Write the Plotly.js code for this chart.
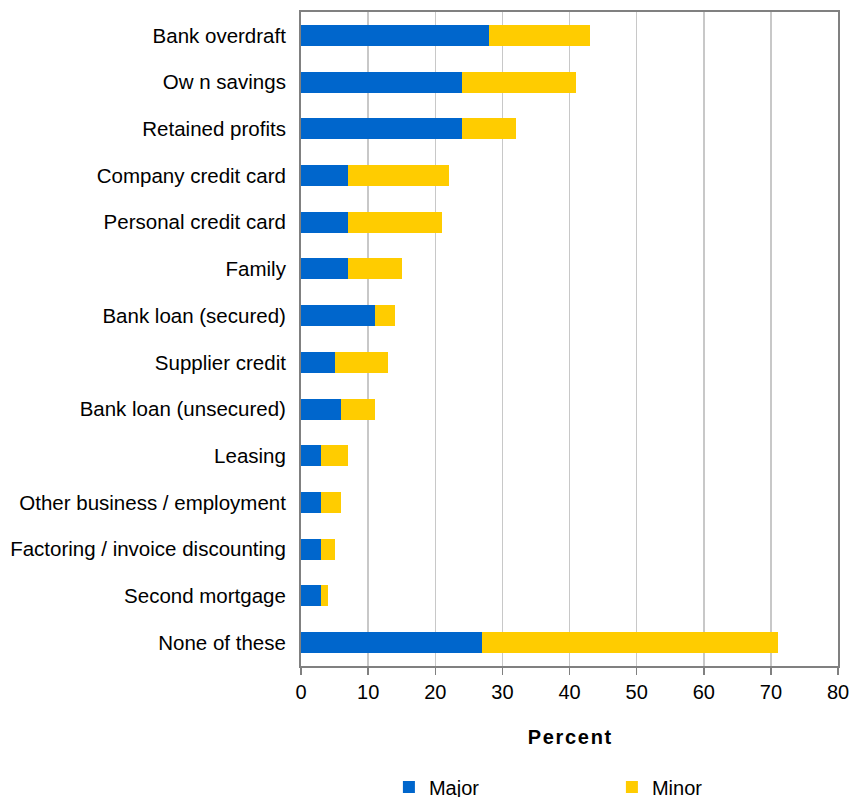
<!DOCTYPE html>
<html>
<head>
<meta charset="utf-8">
<script src="https://cdn.plot.ly/plotly-3.0.1.min.js"></script>
<style>html,body{margin:0;padding:0;background:#fff;}#chart{width:851px;height:797px;}</style>
</head>
<body>
<div id="chart"></div>
<script>
const categories = ["Bank overdraft","Ow n savings","Retained profits","Company credit card","Personal credit card","Family","Bank loan (secured)","Supplier credit","Bank loan (unsecured)","Leasing","Other business / employment","Factoring / invoice discounting","Second mortgage","None of these"];
const majorValues = [28, 24, 24, 7, 7, 7, 11, 5, 6, 3, 3, 3, 3, 27];
const minorValues = [15, 17, 8, 15, 14, 8, 3, 8, 5, 4, 3, 2, 1, 44];
const xTicks = [0,10,20,30,40,50,60,70,80];

const font = "Liberation Sans, Arial, sans-serif";
const data = [
  {type:"bar", orientation:"h", name:"Major", y:categories, x:majorValues, marker:{color:"#0066CC"}, hoverinfo:"x+y"},
  {type:"bar", orientation:"h", name:"Minor", y:categories, x:minorValues, marker:{color:"#FFCC00"}, hoverinfo:"x+y"}
];
const layout = {
  width:851, height:797,
  margin:{l:301, r:13, t:12, b:131, autoexpand:false},
  barmode:"stack", bargap:0.55,
  paper_bgcolor:"#fff", plot_bgcolor:"#fff",
  font:{family:font, size:20, color:"#000"},
  xaxis:{range:[0,80], tickvals:xTicks, ticktext:xTicks.map(String), showgrid:true, gridcolor:"#c8c8c8", gridwidth:1.5,
    ticks:"outside", ticklen:7, tickcolor:"#808080", tickwidth:1.5, showline:true, linecolor:"#808080", linewidth:2, mirror:true,
    zeroline:false, tickfont:{size:20}, fixedrange:true, automargin:false,
    title:{text:"P\u200Ae\u200Ar\u200Ac\u200Ae\u200An\u200At", font:{size:20, weight:"bold"}, standoff:28}},
  yaxis:{categoryorder:"array", categoryarray:categories, autorange:"reversed", showline:true, linecolor:"#808080", linewidth:2, mirror:true,
    showgrid:false, ticks:"", ticklabelstandoff:9, tickfont:{size:20.5}, fixedrange:true, automargin:false},
  legend:{orientation:"h", xref:"container", x:0.457, xanchor:"left", yref:"container", y:0.0125, yanchor:"middle", font:{size:20}, entrywidth:178, itemwidth:30, traceorder:"normal"},
  showlegend:true
};
Plotly.newPlot("chart", data, layout, {displayModeBar:false, staticPlot:true});
</script>
</body>
</html>
